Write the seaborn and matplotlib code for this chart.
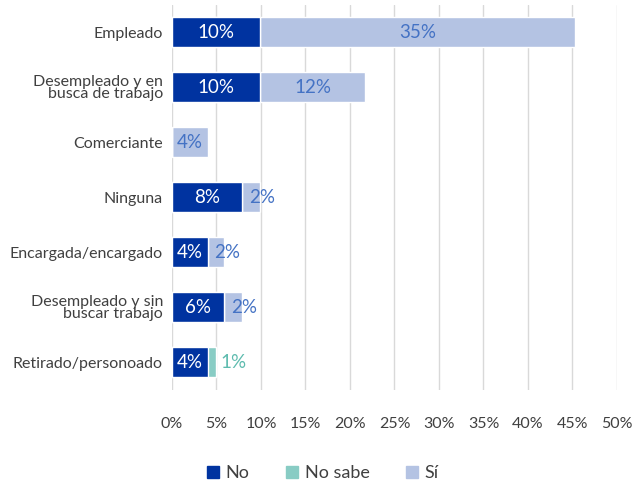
import matplotlib
matplotlib.use("Agg")
import matplotlib.pyplot as plt
import pandas as pd
import seaborn as sns
from matplotlib.patches import Patch

# 数据
categories = [
    "Empleado",
    "Desempleado y en\nbusca de trabajo",
    "Comerciante",
    "Ninguna",
    "Encargada/encargado",
    "Desempleado y sin\nbuscar trabajo",
    "Retirado/personoado",
]
no_vals = [9.9, 9.9, 0.0, 7.9, 4.0, 5.9, 4.0]
nosabe_vals = [0.0, 0.0, 0.0, 0.0, 0.0, 0.0, 1.0]
si_vals = [35.4, 11.8, 4.0, 2.0, 1.9, 2.0, 0.0]
x_ticks = [0, 5, 10, 15, 20, 25, 30, 35, 40, 45, 50]

c_no = "#0033A0"
c_nosabe = "#88CCC4"
c_si = "#B4C3E3"
c_si_txt = "#4472C4"
c_nosabe_txt = "#5DBBAE"
c_txt = "#404040"

sns.set_theme(style="white")
plt.rcParams["font.family"] = ["Lato", "DejaVu Sans"]

df = pd.DataFrame({"cat": categories, "No": no_vals, "No sabe": nosabe_vals, "Sí": si_vals})
df["c1"] = df["No"]
df["c2"] = df["No"] + df["No sabe"]
df["c3"] = df["c2"] + df["Sí"]

fig = plt.figure(figsize=(6.33, 4.84), dpi=100)
ax = fig.add_axes([0.2717, 0.1952, 0.7030, 0.7955])

# 叠加绘制（先画总量，再画部分）
bw = 0.53
sns.barplot(data=df, x="c3", y="cat", color=c_si, orient="h", width=bw, ax=ax, saturation=1)
sns.barplot(data=df, x="c2", y="cat", color=c_nosabe, orient="h", width=bw, ax=ax, saturation=1)
sns.barplot(data=df, x="c1", y="cat", color=c_no, orient="h", width=bw, ax=ax, saturation=1)

ax.set_xlim(0, 50)
ax.set_ylim(6.5, -0.5)
ax.set_xticks(x_ticks)
ax.set_xticklabels([f"{t}%" for t in x_ticks])
ax.set_xlabel("")
ax.set_ylabel("")
ax.grid(axis="x", color="#D9D9D9", linewidth=1)
ax.set_axisbelow(True)
for s in ax.spines.values():
    s.set_visible(False)
ax.tick_params(axis="x", length=0, pad=20, labelsize=11.5, labelcolor=c_txt)
ax.tick_params(axis="y", length=0, pad=6.5, labelsize=11.5, labelcolor=c_txt)
for lab in ax.get_yticklabels():
    lab.set_linespacing(0.9)

# 数据标签
fs = 13.5
for i, row in df.iterrows():
    if row["No"] > 0:
        ax.text(row["No"] / 2, i, f"{round(row['No'])}%", ha="center", va="center",
                color="white", fontsize=fs)
    if row["No sabe"] > 0:
        ax.text(row["c2"] + 0.4, i, f"{round(row['No sabe'])}%", ha="left", va="center",
                color=c_nosabe_txt, fontsize=fs)
    if row["Sí"] > 0:
        if row["Sí"] >= 3:
            ax.text(row["c2"] + row["Sí"] / 2, i, f"{round(row['Sí'])}%", ha="center",
                    va="center", color=c_si_txt, fontsize=fs)
        else:
            ax.text(row["c2"] + 0.75, i, f"{round(row['Sí'])}%", ha="left",
                    va="center", color=c_si_txt, fontsize=fs)

handles = [Patch(color=c_no, label="No"), Patch(color=c_nosabe, label="No sabe"),
           Patch(color=c_si, label="Sí")]
fig.legend(handles=handles, loc="center", bbox_to_anchor=(0.51, 0.022), ncol=3,
           frameon=False, fontsize=13, handlelength=0.7, handleheight=0.7,
           handletextpad=0.35, columnspacing=2.0, labelcolor=c_txt)

fig.savefig("out.png", dpi=100)
